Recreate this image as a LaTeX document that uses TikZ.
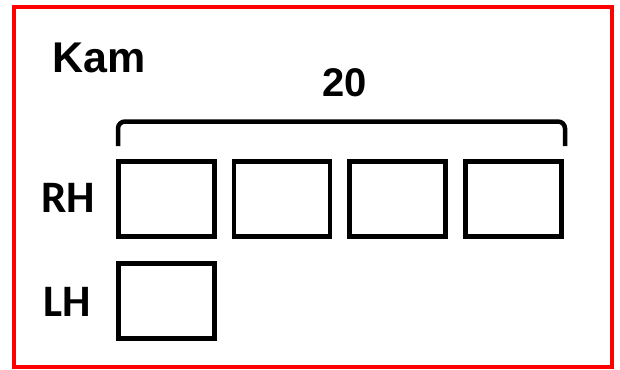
\documentclass[tikz,border=0pt]{standalone}
\usepackage{fontspec}
\setmainfont{Liberation Sans}
\newfontfamily\calib{Carlito}
\begin{document}
\begin{tikzpicture}[x=1pt,y=-1pt,
  cell/.style={draw=black,line width=4.5pt,minimum width=96pt,minimum height=75pt,inner sep=0pt,outer sep=0pt,anchor=north west},
  lbl/.style={inner sep=0pt,font=\fontsize{43}{43}\selectfont\bfseries},
  hand/.style={inner sep=0pt,font=\calib\fontsize{45}{45}\selectfont\bfseries}]
\useasboundingbox (0,0) rectangle (620,369);
\draw[red,line width=4pt] (14,7) rectangle (612,367);
\node[lbl] (kam) at (99,57.5) {Kam};
\node[lbl,font=\fontsize{40}{40}\selectfont\bfseries] (num) at (344.5,82.5) {20};
\node[hand] (rh) at (68,197.5) {RH};
\node[hand] (lh) at (67.5,302) {LH};
\node[cell] (r1) at (118.5,161.5) {};
\node[cell] (r2) at (234,161.5) {};
\node[cell] (r3) at (349.7,161.5) {};
\node[cell] (r4) at (465.5,161.5) {};
\node[cell] (l1) at (118.5,263.5) {};
\coordinate (bl) at (118,146);
\coordinate (br) at (565,146);
\draw[line width=4.5pt,rounded corners=7pt] (bl) -- (118,121.5) -- (565,121.5) -- (br);
\end{tikzpicture}
\end{document}
